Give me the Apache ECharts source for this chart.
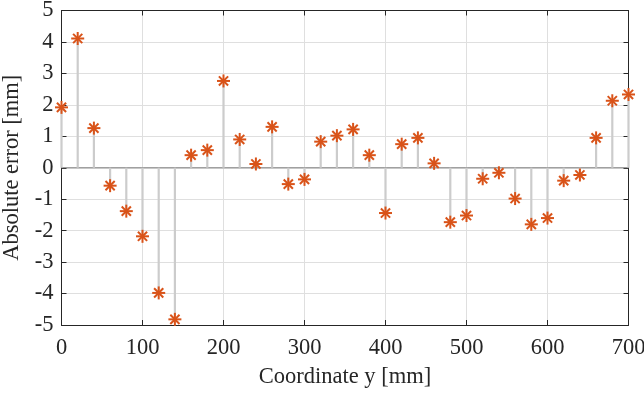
<!DOCTYPE html>
<html><head><meta charset="utf-8">
<script src="https://cdn.jsdelivr.net/npm/echarts@6/dist/echarts.min.js"></script>
<style>html,body{margin:0;padding:0;background:#fff}#c{width:644px;height:394px}</style>
</head><body><div id="c"></div>
<script>
const xValues = [0,20,40,60,80,100,120,140,160,180,200,220,240,260,280,300,320,340,360,380,400,420,440,460,480,500,520,540,560,580,600,620,640,660,680,700];
const errors = [1.92,4.11,1.26,-0.57,-1.38,-2.18,-3.98,-4.82,0.40,0.56,2.76,0.90,0.12,1.30,-0.52,-0.37,0.83,1.02,1.22,0.40,-1.44,0.75,0.95,0.14,-1.73,-1.52,-0.35,-0.16,-0.98,-1.80,-1.60,-0.41,-0.23,0.95,2.13,2.33];
const xTitle = 'Coordinate y [mm]';
const yTitle = 'Absolute error [mm]';

const data = xValues.map((x,i)=>[x, errors[i]]);
const font = 'Liberation Serif';
const fs = 22.5;
const chart = echarts.init(document.getElementById('c'));
const axisCommon = {
  axisLine:{show:true, onZero:false, lineStyle:{color:'#262626', width:1}},
  axisTick:{show:true, inside:true, length:5, lineStyle:{color:'#262626'}},
};
chart.setOption({
  animation:false,
  grid:{left:61.5, right:15.5, top:10.5, bottom:69, containLabel:false, outerBoundsMode:'none'},
  xAxis:[
    Object.assign({type:'value', min:0, max:700, interval:100, position:'bottom',
      name:xTitle, nameLocation:'middle', nameGap:41,
      nameTextStyle:{fontFamily:font, fontSize:fs, color:'#262626'},
      axisLabel:{fontFamily:font, fontSize:fs, color:'#262626', margin:12},
      splitLine:{show:true, lineStyle:{color:'#dfdfdf', width:1}}}, axisCommon),
    Object.assign({type:'value', min:0, max:700, interval:100, position:'top',
      axisLabel:{show:false}, splitLine:{show:false}}, axisCommon)
  ],
  yAxis:[
    Object.assign({type:'value', min:-5, max:5, interval:1, position:'left',
      name:yTitle, nameLocation:'middle', nameGap:31, nameRotate:90,
      nameTextStyle:{fontFamily:font, fontSize:fs, color:'#262626'},
      axisLabel:{fontFamily:font, fontSize:fs, color:'#262626', margin:8},
      splitLine:{show:true, lineStyle:{color:'#dfdfdf', width:1}}}, axisCommon),
    Object.assign({type:'value', min:-5, max:5, interval:1, position:'right',
      axisLabel:{show:false}, splitLine:{show:false}}, axisCommon)
  ],
  series:[
    {
      type:'custom', xAxisIndex:0, yAxisIndex:0,
      data: [[0,0]],
      renderItem:function(params, api){
        const a = api.coord([0,0]);
        const b = api.coord([700,0]);
        return {type:'line', shape:{x1:a[0], y1:a[1], x2:b[0], y2:b[1]}, style:{stroke:'#808080', lineWidth:1.2}};
      },
      z:3
    },
    {
      type:'custom', xAxisIndex:0, yAxisIndex:0,
      data: data,
      encode:{x:0, y:1},
      renderItem:function(params, api){
        const x = api.value(0), y = api.value(1);
        const p0 = api.coord([x,0]);
        const p1 = api.coord([x,y]);
        const r = 6.5, d = r*0.7071;
        const c = p1;
        const st = {stroke:'#D95319', lineWidth:2};
        return {type:'group', children:[
          {type:'line', z2:1, shape:{x1:p0[0], y1:p0[1], x2:p1[0], y2:p1[1]}, style:{stroke:'#cccccc', lineWidth:2.2}},
          {type:'line', z2:5, shape:{x1:c[0]-r, y1:c[1], x2:c[0]+r, y2:c[1]}, style:st},
          {type:'line', z2:5, shape:{x1:c[0], y1:c[1]-r, x2:c[0], y2:c[1]+r}, style:st},
          {type:'line', z2:5, shape:{x1:c[0]-d, y1:c[1]-d, x2:c[0]+d, y2:c[1]+d}, style:st},
          {type:'line', z2:5, shape:{x1:c[0]-d, y1:c[1]+d, x2:c[0]+d, y2:c[1]-d}, style:st}
        ]};
      },
      z:4
    }
  ]
});
</script></body></html>
